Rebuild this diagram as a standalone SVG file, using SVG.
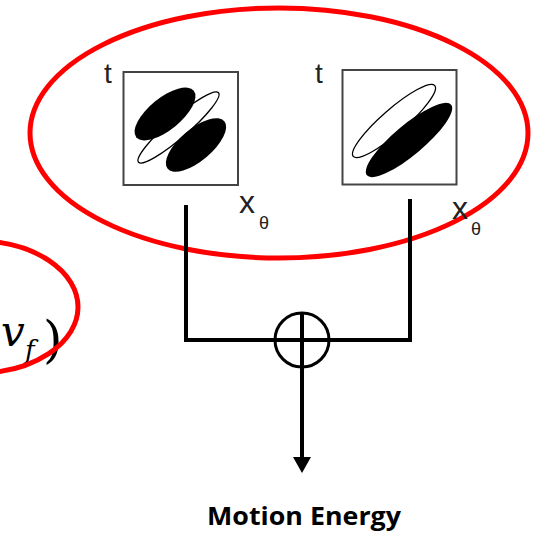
<svg xmlns="http://www.w3.org/2000/svg" width="536" height="533" viewBox="0 0 536 533">
<defs>
<style>
.red{fill:none;stroke:#ff0000;stroke-width:5}
.box{fill:#fff;stroke:#444;stroke-width:2}
.blk{fill:#000}
.out{fill:none;stroke:#000;stroke-width:1.3}
.lbl{font-family:"Liberation Sans",Arial,sans-serif;fill:#222}
.wire{fill:none;stroke:#000;stroke-width:4}
.math{font-family:"DejaVu Serif","Liberation Serif",serif;fill:#000}
</style>
</defs>
<rect width="536" height="533" fill="#fff"/>
<g id="left-group">
<text class="math" x="1" y="346" font-style="italic" font-size="42">v</text>
<text class="math" x="25" y="359" font-style="italic" font-size="26">f</text>
<text class="math" x="43" y="357" font-size="50">)</text>
<ellipse class="red" cx="-22" cy="307" rx="100" ry="66"/>
</g>
<g id="filters-group">
<ellipse class="red" cx="279" cy="133" rx="249" ry="125"/>
</g>
<g id="filter1">
<rect class="box" x="123.5" y="72" width="114.5" height="113"/>
<ellipse class="out" cx="178.5" cy="127.5" rx="53" ry="10" transform="rotate(-41 178.5 127.5)"/>
<ellipse class="blk" cx="165" cy="114" rx="37" ry="16" transform="rotate(-39 165 114)"/>
<ellipse class="blk" cx="196" cy="145" rx="37" ry="16" transform="rotate(-40 196 145)"/>
<text class="lbl" x="104" y="83" font-size="28">t</text>
<text class="lbl" x="239" y="213" font-size="32">x</text>
<text class="lbl" x="259" y="229" font-size="18">θ</text>
</g>
<g id="filter2">
<rect class="box" x="342.5" y="70" width="114" height="114.5"/>
<ellipse class="out" cx="394" cy="121" rx="54" ry="12" transform="rotate(-41 394 121)"/>
<ellipse class="blk" cx="409" cy="140" rx="55" ry="15" transform="rotate(-40 409 140)"/>
<text class="lbl" x="315" y="83" font-size="28">t</text>
<text class="lbl" x="452" y="219" font-size="32">x</text>
<text class="lbl" x="471" y="235" font-size="18">θ</text>
</g>
<g id="connectors">
<path class="wire" d="M186,207 V340 H410 V201" stroke-linejoin="miter" stroke-linecap="square"/>
<line class="wire" x1="302" y1="313" x2="302" y2="460"/>
<polygon points="293,457 311,457 302,473" fill="#000"/>
</g>
<g id="sum">
<circle cx="302" cy="340" r="27" fill="none" stroke="#000" stroke-width="3"/>
</g>
<g id="output">
<text x="304" y="525" text-anchor="middle" font-family="'Open Sans','Liberation Sans',sans-serif" font-weight="bold" font-size="25" textLength="194" lengthAdjust="spacingAndGlyphs" fill="#000">Motion Energy</text>
</g>
</svg>
